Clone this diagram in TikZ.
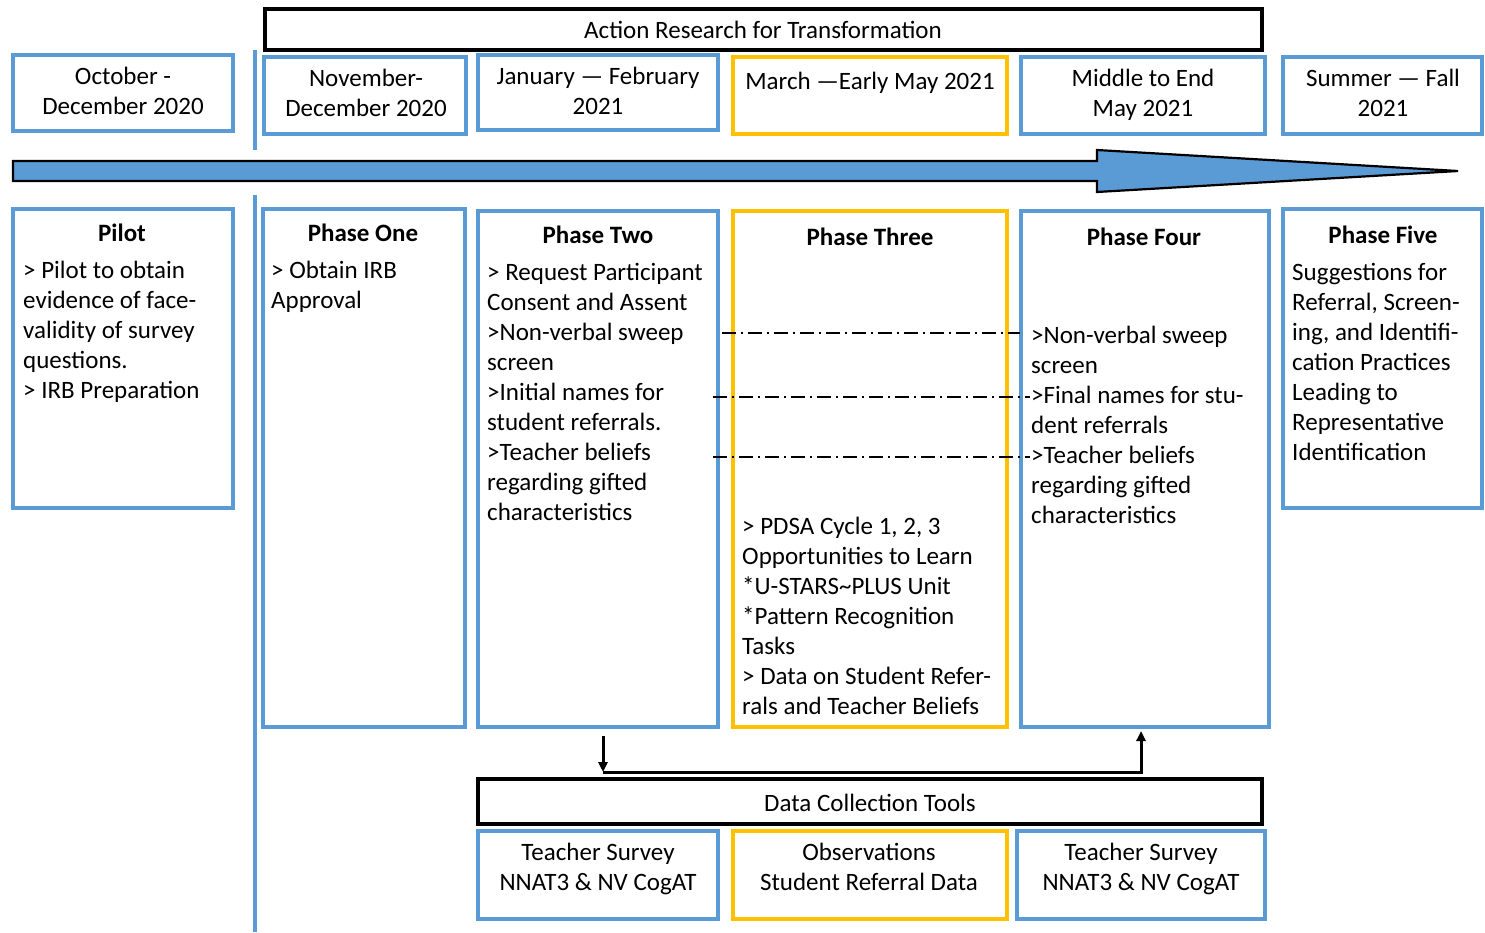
\documentclass[tikz,border=0pt]{standalone}
\usepackage{fontspec}
\setmainfont{Carlito}
\usetikzlibrary{fit,arrows.meta}
\definecolor{bl}{HTML}{5B9BD5}
\definecolor{yl}{HTML}{FFC000}
\begin{document}
\begin{tikzpicture}[x=1pt,y=-1pt,
  every node/.style={inner sep=0pt},
  tx/.style={font=\fontsize{25}{30}\selectfont, execute at begin node=\strut, yshift=-4pt},
  bbox/.style={draw=bl, line width=4pt, fit={#1}, inner sep=0pt},
  ybox/.style={draw=yl, line width=4pt, fit={#1}, inner sep=0pt},
  kbox/.style={draw=black, line width=4pt, fit={#1}, inner sep=0pt},
  body/.style={tx, anchor=north west, align=left},
  ctr/.style={tx, anchor=north, align=center},
  ttl/.style={ctr, font=\fontsize{25}{30}\selectfont\bfseries},
  dd/.style={line width=1.5pt, dash pattern=on 14pt off 5pt on 2pt off 5pt},
  conn/.style={line width=3pt, -{Triangle[length=10pt,width=9pt]}}]
\useasboundingbox (0,0) rectangle (1485,932);
% header
\node[kbox={(265,9)(1262,50)}] (hdr) {};
\node[ctr] (hdrt) at (763,13.5) {Action Research for Transformation};
% date boxes
\node[bbox={(13,55)(233,131)}] (d0) {};
\node[bbox={(264,57)(466,134)}] (d1) {};
\node[bbox={(478,55)(718,130)}] (d2) {};
\node[ybox={(733,57)(1007,134)}] (d3) {};
\node[bbox={(1021,57)(1265,134)}] (d4) {};
\node[bbox={(1283,57)(1482,134)}] (d5) {};
\node[ctr] (d0t) at (123,62.5) {October -\\December 2020};
\node[ctr] (d1t) at (366,64.5) {November-\\December 2020};
\node[ctr] (d2t) at (598,62.5) {January — February\\2021};
\node[ctr] (d3t) at (870,64.5) {March —Early May 2021};
\node[ctr] (d4t) at (1143,64.5) {Middle to End\\May 2021};
\node[ctr] (d5t) at (1383,64.5) {Summer — Fall\\2021};
% separator
\draw[bl, line width=4pt] (255,50) -- (255,150) (255,195) -- (255,932);
% big arrow
\draw[fill=bl, line width=2.2pt, line join=miter] (13,161) -- (1097,161) -- (1097,150) -- (1458,171) -- (1097,192) -- (1097,181) -- (13,181) -- cycle;
% phase boxes
\node[bbox={(13,209)(233,508)}] (p0) {};
\node[bbox={(263,209)(465,727)}] (p1) {};
\node[bbox={(478,211)(718,727)}] (p2) {};
\node[ybox={(733,211)(1007,727)}] (p3) {};
\node[bbox={(1021,211)(1269,727)}] (p4) {};
\node[bbox={(1283,209)(1482,508)}] (p5) {};
\node[ttl] (p0h) at (122,216.5) {Pilot};
\node[ttl] (p1h) at (363,216.5) {Phase One};
\node[ttl] (p2h) at (598,218.5) {Phase Two};
\node[ttl] (p3h) at (870,220.5) {Phase Three};
\node[ttl] (p4h) at (1144,220.5) {Phase Four};
\node[ttl] (p5h) at (1383,218.5) {Phase Five};
\node[body] (p0t) at (23,256.5) {> Pilot to obtain\\evidence of face-\\validity of survey\\questions.\\> IRB Preparation};
\node[body] (p1t) at (271,256.5) {> Obtain IRB\\Approval};
\node[body] (p2t) at (487,259.5) {> Request Participant\\Consent and Assent\\>Non-verbal sweep\\screen\\>Initial names for\\student referrals.\\>Teacher beliefs\\regarding gifted\\characteristics};
\node[body] (p3t) at (742,512.5) {> PDSA Cycle 1, 2, 3\\Opportunities to Learn\\*U-STARS\textasciitilde PLUS Unit\\*Pattern Recognition\\Tasks\\> Data on Student Refer-\\rals and Teacher Beliefs};
\node[body] (p4t) at (1031,321.5) {>Non-verbal sweep\\screen\\>Final names for stu-\\dent referrals\\>Teacher beliefs\\regarding gifted\\characteristics};
\node[body] (p5t) at (1292,259.5) {Suggestions for\\Referral, Screen-\\ing, and Identifi-\\cation Practices\\Leading to\\Representative\\Identification};
% dash-dot links
\coordinate (a1) at (722,333); \coordinate (b1) at (1020,333);
\coordinate (a2) at (713,397); \coordinate (b2) at (1030,397);
\coordinate (a3) at (713,457); \coordinate (b3) at (1030,457);
\draw[dd] (a1) -- (b1);
\draw[dd] (a2) -- (b2);
\draw[dd] (a3) -- (b3);
% data collection
\node[kbox={(478,779)(1262,824)}] (dc) {};
\node[ctr] (dct) at (870,786.5) {Data Collection Tools};
\node[bbox={(478,831)(718,919)}] (t1) {};
\node[ybox={(733,831)(1007,919)}] (t2) {};
\node[bbox={(1017,831)(1265,919)}] (t3) {};
\node[ctr] (t1t) at (598,838.5) {Teacher Survey\\NNAT3 \& NV CogAT};
\node[ctr] (t2t) at (869,838.5) {Observations\\Student Referral Data};
\node[ctr] (t3t) at (1141,838.5) {Teacher Survey\\NNAT3 \& NV CogAT};
% connectors
\coordinate (s1) at (603,736);
\coordinate (m1) at (603,772);
\coordinate (m2) at (1141,772);
\coordinate (e1) at (1141,731);
\draw[conn] (s1) -- (m1);
\draw[conn, line join=miter] (m1) -- (m2) -- (e1);
\end{tikzpicture}
\end{document}
